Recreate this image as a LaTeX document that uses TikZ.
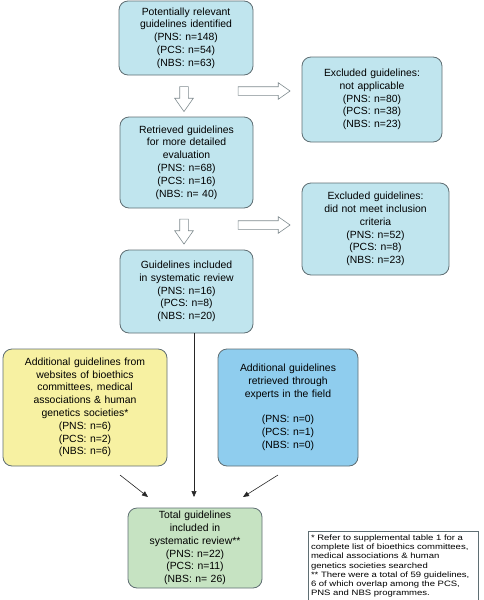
\documentclass[tikz,border=0pt]{standalone}
\usepackage{fontspec}
\setmainfont{Liberation Sans}
\newfontfamily\notefont[FakeStretch=1.22]{Liberation Sans}
\usepackage{tikz}
\usetikzlibrary{shapes.arrows,arrows.meta}
\definecolor{boxline}{HTML}{5F6E73}
\definecolor{paleblue}{HTML}{C0E5EE}
\definecolor{midblue}{HTML}{8FCDEE}
\definecolor{paleyellow}{HTML}{F7F1A2}
\definecolor{palegreen}{HTML}{C6E3C2}
\tikzset{
	flowbox/.style={draw=boxline, line width=0.8pt, rounded corners=9pt, align=center, inner xsep=5pt, inner ysep=0pt,
		font=\fontsize{10.4}{12.8}\selectfont},
	hollowright/.style={single arrow, draw=boxline!80, line width=0.6pt, fill=white, inner sep=4pt,
		single arrow head extend=4pt, single arrow tip angle=70, minimum height=52pt},
	hollowdown/.style={hollowright, shape border rotate=270, single arrow head extend=5pt, minimum height=25pt},
	feed/.style={draw=black!85, line width=0.6pt, -{Triangle[length=6pt,width=5pt]}}
}

\begin{document}
\begin{tikzpicture}[x=1pt,y=-1pt]
			%%%%% START %%%%%
			
			\useasboundingbox (0, 0) rectangle (483, 600);
			
			\node[flowbox, fill=paleblue, text width=124pt, minimum height=74pt] (found) at (186, 38)
				{Potentially relevant\\guidelines identified\\(PNS: n=148)\\(PCS: n=54)\\(NBS: n=63)};
			\node[flowbox, fill=paleblue, text width=130pt, minimum height=85pt] (notapp) at (372, 99.5)
				{Excluded guidelines:\\not applicable\\(PNS: n=80)\\(PCS: n=38)\\(NBS: n=23)};
			\node[flowbox, fill=paleblue, text width=123pt, minimum height=91pt] (retrieved) at (186.5, 162.5)
				{Retrieved guidelines\\for more detailed\\evaluation\\(PNS: n=68)\\(PCS: n=16)\\(NBS: n= 40)};
			\node[flowbox, fill=paleblue, text width=137pt, minimum height=92pt] (notmet) at (375.5, 229)
				{Excluded guidelines:\\did not meet inclusion\\criteria\\(PNS: n=52)\\(PCS: n=8)\\(NBS: n=23)};
			\node[flowbox, fill=paleblue, text width=123pt, minimum height=83pt] (included) at (186.5, 291.5)
				{Guidelines included\\in systematic review\\(PNS: n=16)\\(PCS: n=8)\\(NBS: n=20)};
			
			\node[hollowdown] (down1) at (184, 96) {};
			\node[hollowright] (right1) at (261, 91) {};
			\node[hollowdown] (down2) at (184, 228.5) {};
			\node[hollowright] (right2) at (261, 225) {};
			
			\node[flowbox, fill=paleyellow, text width=154pt, minimum height=117pt] (websites) at (85, 407.5)
				{Additional guidelines from\\websites of bioethics\\committees, medical\\associations \& human\\genetics societies*\\(PNS: n=6)\\(PCS: n=2)\\(NBS: n=6)};
			\node[flowbox, fill=midblue, text width=130pt, minimum height=117pt] (experts) at (288, 407.5)
				{Additional guidelines\\retrieved through\\experts in the field\\[12.8pt](PNS: n=0)\\(PCS: n=1)\\(NBS: n=0)};
			
			\node[flowbox, fill=palegreen, text width=124pt, minimum height=80pt] (total) at (195, 548)
				{Total guidelines\\included in\\systematic review{**}\\(PNS: n=22)\\(PCS: n=11)\\(NBS: n= 26)};
			
			\node[draw=boxline, line width=0.7pt, align=left, inner sep=3pt, text width=164pt,
				font=\notefont\fontsize{7.8}{9.3}\selectfont] (notes) at (393, 566)
				{* Refer to supplemental table 1 for a\\complete list of bioethics committees,\\medical associations \& human\\genetics societies searched\\{**} There were a total of 59 guidelines,\\6 of which overlap among the PCS,\\PNS and NBS programmes.};
			
			\coordinate (tipL) at (148, 497);
			\coordinate (tipC) at (194, 497);
			\coordinate (tipR) at (243, 497);
			\coordinate (fromL) at (120, 475);
			\coordinate (fromR) at (278, 475);
			
			\draw[feed] (included.south -| tipC) -- (tipC);
			\draw[feed] (fromL) -- (tipL);
			\draw[feed] (fromR) -- (tipR);
			
			%%%%% END %%%%%
		\end{tikzpicture}
\end{document}
